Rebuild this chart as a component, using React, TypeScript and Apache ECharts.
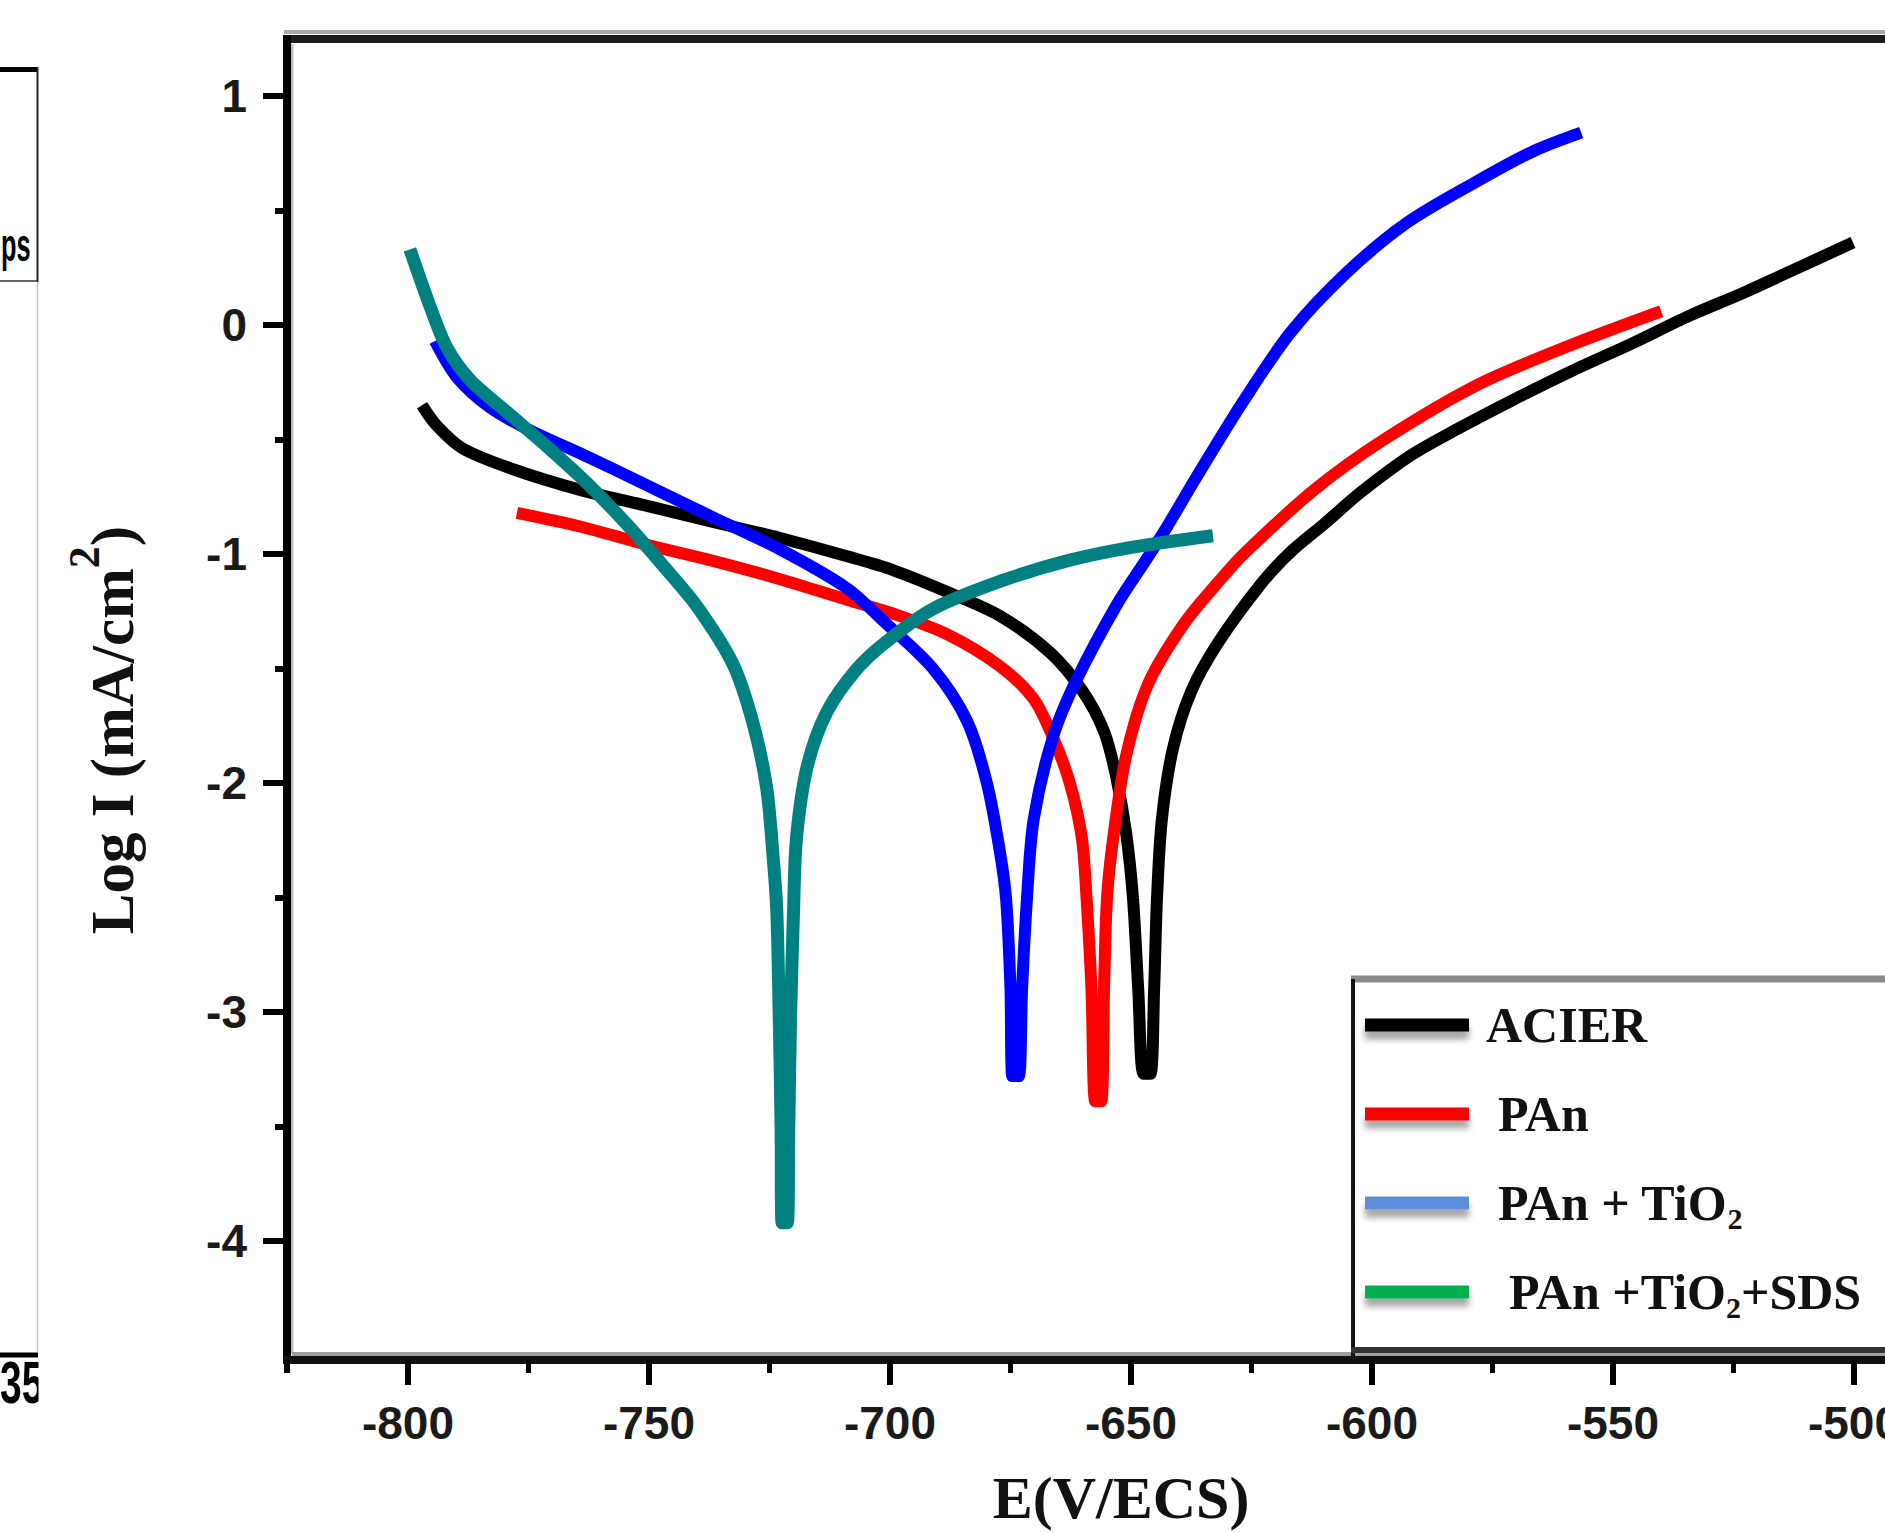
import React, { useEffect, useRef } from "react";
import * as echarts from "echarts";

// ---------- data (E in mV vs ECS, log I) ----------
const SERIES_NAMES = ["ACIER", "PAn", "PAn + TiO2", "PAn +TiO2+SDS"];
const LINE_COLORS = ["#000000", "#ff0000", "#0000ff", "#008080"];
const LEGEND_COLORS = ["#000000", "#ff0000", "#5b8fd9", "#00b050"];

const ACIER: number[][] = [
  [-797.1, -0.35], [-794.0, -0.44], [-788.6, -0.54], [-778.2, -0.63], [-764.3, -0.72],
  [-750.4, -0.79], [-736.7, -0.86], [-722.8, -0.93], [-708.9, -1.01], [-699.4, -1.07],
  [-687.6, -1.17], [-677.2, -1.27], [-666.8, -1.43], [-660.0, -1.6], [-655.5, -1.78],
  [-653.0, -1.98], [-651.0, -2.22], [-649.6, -2.5], [-648.5, -2.9], [-647.4, -3.27],
  [-646.0, -3.27], [-645.2, -2.9], [-644.6, -2.5], [-643.6, -2.16], [-641.3, -1.85],
  [-637.5, -1.6], [-632.0, -1.39], [-623.0, -1.13], [-616.8, -0.99], [-610.0, -0.87],
  [-602.3, -0.73], [-592.0, -0.57], [-582.8, -0.46], [-571.0, -0.33], [-558.5, -0.2],
  [-546.0, -0.08], [-534.2, 0.04], [-523.0, 0.14], [-514.7, 0.22], [-500.2, 0.36],
];

const PAN: number[][] = [
  [-777.4, -0.82], [-764.3, -0.88], [-750.4, -0.96], [-736.7, -1.03], [-722.8, -1.11],
  [-708.9, -1.2], [-699.4, -1.26], [-688.2, -1.35], [-677.2, -1.49], [-670.3, -1.63],
  [-666.2, -1.8], [-662.7, -2.0], [-660.2, -2.24], [-659.2, -2.51], [-658.2, -2.9],
  [-657.4, -3.39], [-656.2, -3.39], [-655.6, -2.9], [-655.0, -2.51], [-653.7, -2.24],
  [-651.0, -1.88], [-646.5, -1.57], [-639.2, -1.31], [-632.2, -1.13], [-626.6, -1.0],
  [-612.0, -0.72], [-597.5, -0.5], [-578.0, -0.26], [-559.0, -0.09], [-540.0, 0.06],
];

const PAN_TIO2: number[][] = [
  [-794.4, -0.07], [-789.8, -0.23], [-783.0, -0.36], [-774.7, -0.46], [-764.3, -0.56],
  [-750.4, -0.7], [-736.7, -0.84], [-722.8, -0.98], [-708.9, -1.15], [-701.5, -1.29],
  [-691.1, -1.5], [-684.0, -1.73], [-679.9, -2.0], [-677.2, -2.3], [-675.9, -2.51],
  [-675.0, -2.9], [-674.6, -3.28], [-673.3, -3.28], [-672.6, -2.9], [-671.6, -2.51],
  [-670.2, -2.16], [-666.2, -1.8], [-661.3, -1.55], [-652.9, -1.22], [-646.7, -1.02],
  [-642.5, -0.88], [-636.3, -0.66], [-626.6, -0.33], [-616.8, -0.03], [-605.2, 0.23],
  [-592.5, 0.45], [-578.0, 0.63], [-566.4, 0.76], [-556.6, 0.84],
];

const PAN_TIO2_SDS: number[][] = [
  [-799.6, 0.33], [-795.4, 0.08], [-791.9, -0.1], [-787.1, -0.24], [-779.5, -0.38],
  [-771.2, -0.53], [-762.9, -0.69], [-754.6, -0.87], [-747.1, -1.05], [-740.0, -1.23],
  [-732.6, -1.48], [-728.4, -1.74], [-725.6, -2.02], [-724.3, -2.31], [-723.5, -2.55],
  [-723.0, -3.0], [-722.6, -3.5], [-722.4, -3.92], [-721.3, -3.92], [-721.0, -3.5],
  [-720.6, -3.0], [-720.0, -2.55], [-719.4, -2.24], [-717.2, -1.93], [-713.1, -1.69],
  [-706.8, -1.5], [-700.6, -1.38], [-691.1, -1.24], [-677.2, -1.12], [-663.3, -1.03],
  [-649.6, -0.97], [-633.0, -0.92],
];

const SERIES_DATA = [ACIER, PAN, PAN_TIO2, PAN_TIO2_SDS];

const X_MIN = -800;
const X_MAX = -500;
const X_STEP = 50;
const Y_MIN = -4;
const Y_MAX = 1;
const Y_STEP = 1;

const X_TITLE = "E(V/ECS)";
const Y_TITLE = "{m|Log I (mA/cm}{p|2}{m|)}";

const LEGEND_LABELS: Record<string, string> = {
  "ACIER": "{a|ACIER}",
  "PAn": "{b|PAn}",
  "PAn + TiO2": "{c|PAn + TiO}{s|2}",
  "PAn +TiO2+SDS": "{d|PAn +TiO}{s|2}{t|+SDS}",
};

// ---------- component ----------
export default function App() {
  const ref = useRef<HTMLDivElement>(null);

  useEffect(() => {
    if (!ref.current) return;
    const chart = echarts.init(ref.current, null, { renderer: "svg" });

    const serif = "'Liberation Serif', 'Times New Roman', serif";
    const sans = "'Liberation Sans', Arial, sans-serif";
    const base = { fontFamily: serif, fontWeight: "bold", fontSize: 50, color: "#111", lineHeight: 60 };

    const option: any = {
      animation: false,
      backgroundColor: "#ffffff",
      grid: {
        left: 408, top: 96, width: 1446, height: 1145,
        containLabel: false, outerBoundsMode: "none",
      },
      xAxis: {
        type: "value",
        min: X_MIN,
        max: X_MAX,
        interval: X_STEP,
        offset: 119,
        axisLine: { show: false, onZero: false },
        axisTick: { show: true, length: 25, lineStyle: { color: "#000", width: 6 } },
        minorTick: { show: true, splitNumber: 2, length: 13, lineStyle: { color: "#000", width: 5 } },
        splitLine: { show: false },
        minorSplitLine: { show: false },
        axisLabel: { fontFamily: sans, fontWeight: "bold", fontSize: 46, color: "#1a1a1a", margin: 40 },
      },
      yAxis: {
        type: "value",
        min: Y_MIN,
        max: Y_MAX,
        interval: Y_STEP,
        offset: 121,
        axisLine: { show: false, onZero: false },
        axisTick: { show: true, length: 24, lineStyle: { color: "#000", width: 6 } },
        minorTick: { show: true, splitNumber: 2, length: 12, lineStyle: { color: "#000", width: 6 } },
        splitLine: { show: false },
        minorSplitLine: { show: false },
        axisLabel: { fontFamily: sans, fontWeight: "bold", fontSize: 46, color: "#1a1a1a", margin: 40 },
      },
      legend: {
        orient: "vertical",
        left: 1365,
        top: 995,
        padding: 0,
        itemWidth: 104,
        itemHeight: 13,
        itemGap: 29,
        icon: "rect",
        selectedMode: false,
        data: SERIES_NAMES.map((n, i) => ({
          name: n,
          itemStyle: {
            color: LEGEND_COLORS[i],
            shadowBlur: 6,
            shadowColor: "rgba(0,0,0,0.35)",
            shadowOffsetY: 8,
          },
        })),
        formatter: (name: string) => LEGEND_LABELS[name] || name,
        textStyle: {
          ...base,
          rich: {
            a: { ...base, padding: [0, 0, 0, 12] },
            b: { ...base, padding: [0, 0, 0, 24] },
            c: { ...base, padding: [0, 0, 0, 24] },
            d: { ...base, padding: [0, 0, 0, 35] },
            t: { ...base },
            s: { fontFamily: serif, fontWeight: "bold", fontSize: 30, color: "#111", lineHeight: 36, verticalAlign: "bottom" },
          },
        },
      },
      series: SERIES_DATA.map((d, i) => ({
        name: SERIES_NAMES[i],
        type: "line",
        data: d,
        showSymbol: false,
        symbol: "none",
        smooth: 0.3,
        clip: false,
        lineStyle: { color: LINE_COLORS[i], width: i === 3 ? 13 : 12, cap: "butt", join: "bevel" },
        itemStyle: { color: LINE_COLORS[i] },
        z: 2 + i,
      })),
      graphic: [
        // plot frame
        { type: "line", shape: { x1: 284, y1: 32, x2: 1885, y2: 32 }, style: { stroke: "#a8a8a8", lineWidth: 4 } },
        { type: "line", shape: { x1: 283, y1: 39, x2: 1885, y2: 39 }, style: { stroke: "#1c1c1c", lineWidth: 8 } },
        { type: "line", shape: { x1: 292, y1: 44, x2: 292, y2: 1354 }, style: { stroke: "#bdbdbd", lineWidth: 3 } },
        { type: "line", shape: { x1: 287, y1: 35, x2: 287, y2: 1364 }, style: { stroke: "#000", lineWidth: 8 } },
        { type: "line", shape: { x1: 292, y1: 1354, x2: 1885, y2: 1354 }, style: { stroke: "#a0a0a0", lineWidth: 4 } },
        { type: "line", shape: { x1: 283, y1: 1360, x2: 1885, y2: 1360 }, style: { stroke: "#111", lineWidth: 8 } },
        { type: "line", shape: { x1: 287, y1: 1360, x2: 287, y2: 1373 }, style: { stroke: "#000", lineWidth: 6 } },
        // legend box
        { type: "rect", shape: { x: 1353, y: 979, width: 600, height: 371 }, style: { fill: "#fff" } },
        { type: "line", shape: { x1: 1351, y1: 979, x2: 1885, y2: 979 }, style: { stroke: "#8a8a8a", lineWidth: 7 } },
        { type: "line", shape: { x1: 1353, y1: 979, x2: 1353, y2: 1356 }, style: { stroke: "#111", lineWidth: 4 } },
        { type: "line", shape: { x1: 1351, y1: 1350, x2: 1885, y2: 1350 }, style: { stroke: "#333", lineWidth: 6 } },
        // axis titles
        {
          type: "text",
          x: 112,
          y: 730,
          rotation: Math.PI / 2,
          style: {
            text: Y_TITLE,
            align: "center",
            verticalAlign: "middle",
            fill: "#111",
            rich: {
              m: { fontFamily: serif, fontWeight: "bold", fontSize: 61, fill: "#111", lineHeight: 100 },
              p: { fontFamily: serif, fontWeight: "bold", fontSize: 44, fill: "#111", lineHeight: 44, verticalAlign: "top" },
            },
          },
        },
        {
          type: "text",
          x: 1121,
          y: 1498,
          style: {
            text: X_TITLE,
            fontFamily: serif,
            fontWeight: "bold",
            fontSize: 60,
            fill: "#111",
            align: "center",
            verticalAlign: "middle",
          },
        },
        // fragment of the neighbouring figure on the left
        { type: "line", shape: { x1: 0, y1: 69.5, x2: 38, y2: 69.5 }, style: { stroke: "#000", lineWidth: 5 } },
        { type: "line", shape: { x1: 37.5, y1: 67, x2: 37.5, y2: 282 }, style: { stroke: "#222", lineWidth: 2 } },
        { type: "line", shape: { x1: 0, y1: 281, x2: 38, y2: 281 }, style: { stroke: "#333", lineWidth: 1.5 } },
        { type: "line", shape: { x1: 37.5, y1: 282, x2: 37.5, y2: 1352 }, style: { stroke: "#c4c4c4", lineWidth: 1.5 } },
        {
          type: "text",
          x: 1,
          y: 245,
          scaleX: 0.55,
          style: { text: "ps", fontFamily: sans, fontWeight: "bold", fontSize: 46, fill: "#000", align: "left", verticalAlign: "middle" },
        },
        {
          type: "text",
          x: 0,
          y: 1382,
          scaleX: 0.65,
          style: { text: "35", fontFamily: sans, fontWeight: "bold", fontSize: 60, fill: "#000", align: "left", verticalAlign: "middle" },
        },
        { type: "rect", shape: { x: 38.5, y: 1358, width: 60, height: 60 }, style: { fill: "#fff" } },
        { type: "line", shape: { x1: 0, y1: 1355, x2: 38, y2: 1355 }, style: { stroke: "#000", lineWidth: 5 } },
      ],
    };

    chart.setOption(option);
    return () => chart.dispose();
  }, []);

  return (
    <div
      ref={ref}
      style={{ position: "fixed", left: 0, top: 0, width: 1885, height: 1533, background: "#fff" }}
    />
  );
}
